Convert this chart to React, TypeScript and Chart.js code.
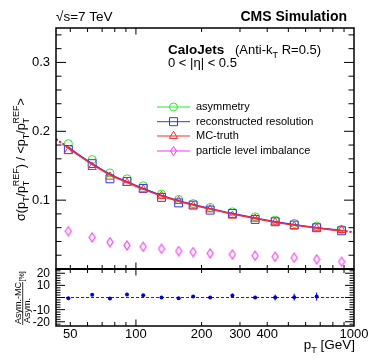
import { useEffect, useRef, useState } from 'react';
import { Chart, registerables } from 'chart.js';

Chart.register(...registerables);

// ---------------- data ----------------
const ptBins = [49, 63, 76, 91, 108, 131, 157, 183, 219, 277, 352, 435, 532, 674, 877];
const asymmetry = [0.182, 0.159, 0.1396, 0.131, 0.121, 0.1087, 0.101, 0.095, 0.0894, 0.083, 0.0758, 0.071, 0.0662, 0.0623, 0.0575];
const recoResolution = [0.1735, 0.153, 0.131, 0.127, 0.117, 0.104, 0.096, 0.0928, 0.0855, 0.0807, 0.072, 0.0686, 0.0638, 0.0599, 0.0555];
const mcTruth = [0.171, 0.148, 0.134, 0.125, 0.1155, 0.106, 0.0985, 0.0918, 0.0865, 0.0773, 0.0729, 0.0677, 0.0623, 0.059, 0.0565];
const particleImbalance = [0.055, 0.046, 0.039, 0.0343, 0.0323, 0.0294, 0.026, 0.0246, 0.0227, 0.0213, 0.0193, 0.0178, 0.0164, 0.014, 0.0106];

const fitPt = [43, 49, 63, 76, 91, 108, 131, 157, 183, 219, 277, 352, 435, 532, 674, 877, 1000];
const fitMcTruth = [0.188, 0.1755, 0.152, 0.137, 0.126, 0.116, 0.106, 0.0985, 0.093, 0.087, 0.08, 0.0735, 0.068, 0.0638, 0.0595, 0.0555, 0.053];
const fitReco = [0.189, 0.1765, 0.153, 0.1378, 0.1268, 0.1168, 0.1067, 0.0992, 0.0937, 0.0876, 0.0806, 0.074, 0.0685, 0.0643, 0.06, 0.056, 0.0535];

const ratioPt = [49, 63, 76, 91, 108, 131, 157, 183, 219, 277, 352, 435, 532, 674];
const ratioValues = [-0.6, 2.2, -0.8, 2.5, 1.9, 0, -0.6, 0.8, 0, 1.7, 0, 0, 0.3, 0.8];
const ratioErrors = [0.6, 0.6, 0.6, 0.6, 0.6, 0.7, 0.7, 0.8, 0.9, 1.5, 1.3, 2.4, 2.9, 3.3];

const xTickLabels = [50, 100, 200, 300, 400, 1000];
const xMajorTicks = [100, 1000];
const xMinorTicks = [50, 60, 70, 80, 90, 200, 300, 400, 500, 600, 700, 800, 900];
const mainYTickLabels = [0.1, 0.2, 0.3];
const ratioYTickLabels = ['20', '10', '-10', '-20'];
const ratioYTickValues = [20, 10, -10, -20];

// ---------------- styling ----------------
const FONT = '"Liberation Sans", Arial, Helvetica, sans-serif';
const f = (size: number, bold = false) => `${bold ? 'bold ' : ''}${size}px ${FONT}`;
const GREEN = '#22ee22';
const BLUE = '#3333ff';
const RED = '#ff2a2a';
const MAGENTA = '#ff33ff';
const RATIO_BLUE = '#0000ee';

type Part = { text: string; sub?: string; sup?: string };

function richWidth(ctx: CanvasRenderingContext2D, parts: Part[], size: number, small: number) {
  let w = 0;
  for (const p of parts) {
    ctx.font = f(size);
    w += ctx.measureText(p.text).width;
    ctx.font = f(small);
    const w1 = p.sub ? ctx.measureText(p.sub).width : 0;
    const w2 = p.sup ? ctx.measureText(p.sup).width : 0;
    w += Math.max(w1, w2);
  }
  return w;
}

function drawRich(ctx: CanvasRenderingContext2D, parts: Part[], x: number, y: number, size: number, small: number, subDy: number, supDy: number) {
  let cx = x;
  for (const p of parts) {
    ctx.font = f(size);
    ctx.fillText(p.text, cx, y);
    cx += ctx.measureText(p.text).width;
    ctx.font = f(small);
    const w1 = p.sub ? ctx.measureText(p.sub).width : 0;
    const w2 = p.sup ? ctx.measureText(p.sup).width : 0;
    if (p.sub) ctx.fillText(p.sub, cx, y + subDy);
    if (p.sup) ctx.fillText(p.sup, cx, y + supDy);
    cx += Math.max(w1, w2);
  }
}

function makeDiamond(color: string) {
  const c = document.createElement('canvas');
  c.width = 8;
  c.height = 11;
  const g = c.getContext('2d')!;
  g.strokeStyle = color;
  g.lineWidth = 1.1;
  g.beginPath();
  g.moveTo(4, 1);
  g.lineTo(7, 5.5);
  g.lineTo(4, 10);
  g.lineTo(1, 5.5);
  g.closePath();
  g.stroke();
  return c;
}

const framePlugin = {
  id: 'rootFrame',
  afterDatasetsDraw(chart: any) {
    const ctx: CanvasRenderingContext2D = chart.ctx;
    const x = chart.scales.x;
    const yr = chart.scales.yr;
    ctx.save();
    ctx.strokeStyle = RATIO_BLUE;
    ctx.lineWidth = 1;
    ctx.beginPath();
    ratioPt.forEach((pt, i) => {
      const px = x.getPixelForValue(pt);
      ctx.moveTo(px, yr.getPixelForValue(ratioValues[i] + ratioErrors[i]));
      ctx.lineTo(px, yr.getPixelForValue(ratioValues[i] - ratioErrors[i]));
    });
    ctx.stroke();
    ctx.restore();
  },
  afterDraw(chart: any) {
    const ctx: CanvasRenderingContext2D = chart.ctx;
    const x = chart.scales.x;
    const y = chart.scales.y;
    const yr = chart.scales.yr;
    const L = chart.chartArea.left;
    const R = chart.chartArea.right;
    ctx.save();
    ctx.strokeStyle = '#000';

    ctx.lineWidth = 0.8;
    ctx.setLineDash([3, 2]);
    ctx.beginPath();
    const z = yr.getPixelForValue(0);
    ctx.moveTo(L, z);
    ctx.lineTo(R, z);
    ctx.stroke();
    ctx.setLineDash([]);

    ctx.lineWidth = 1;
    ctx.beginPath();
    const xTicks = (yy: number, dir: number, maj: number, min: number) => {
      for (const v of [...xMinorTicks, ...xMajorTicks]) {
        const px = x.getPixelForValue(v);
        if (px < L + 1 || px > R - 1) continue;
        const len = xMajorTicks.includes(v) ? maj : min;
        ctx.moveTo(px, yy);
        ctx.lineTo(px, yy + dir * len);
      }
    };
    xTicks(y.top, 1, 6.5, 4);
    xTicks(y.bottom, -1, 6.5, 4);
    xTicks(yr.top, 1, 6.5, 4);
    xTicks(yr.bottom, -1, 6.5, 4);

    const yTicks = (scale: any, from: number, to: number, step: number, majorStep: number, maj: number, min: number) => {
      const n = Math.round((to - from) / step);
      for (let i = 0; i <= n; i++) {
        const v = from + i * step;
        const py = scale.getPixelForValue(v);
        if (py < scale.top + 1 || py > scale.bottom - 1) continue;
        const isMaj = Math.abs(v / majorStep - Math.round(v / majorStep)) < 1e-6;
        const len = isMaj ? maj : min;
        ctx.moveTo(L, py);
        ctx.lineTo(L + len, py);
        ctx.moveTo(R, py);
        ctx.lineTo(R - len, py);
      }
    };
    yTicks(y, 0, 0.34, 0.02, 0.1, 10, 5.5);
    yTicks(yr, -22, 22, 2, 10, 9, 4.5);
    ctx.stroke();

    ctx.lineWidth = 1.5;
    ctx.strokeRect(L, y.top, R - L, y.bottom - y.top);
    ctx.strokeRect(L, yr.top, R - L, yr.bottom - yr.top);
    ctx.lineWidth = 2;
    ctx.beginPath();
    ctx.moveTo(L, y.bottom);
    ctx.lineTo(R, y.bottom);
    ctx.stroke();

    ctx.fillStyle = '#000';
    ctx.textBaseline = 'alphabetic';
    ctx.textAlign = 'left';
    ctx.font = f(13.5);
    ctx.fillText('\u221As=7 TeV', 56, 21);
    ctx.textAlign = 'right';
    ctx.font = f(14, true);
    ctx.fillText('CMS Simulation', 347, 21);
    ctx.textAlign = 'left';
    ctx.font = f(13.5, true);
    ctx.fillText('CaloJets', 168, 54);
    drawRich(ctx, [{ text: '(Anti-k', sub: 'T' }, { text: ' R=0.5)' }], 235, 54, 13, 9, 4, -6);
    ctx.font = f(13);
    ctx.fillText('0 < |\u03B7| < 0.5', 168, 67);

    const legend = [
      { label: 'asymmetry', color: GREEN, shape: 'circle', y: 107 },
      { label: 'reconstructed resolution', color: BLUE, shape: 'rect', y: 121.7 },
      { label: 'MC-truth', color: RED, shape: 'triangle', y: 136 },
      { label: 'particle level imbalance', color: MAGENTA, shape: 'diamond', y: 151 },
    ];
    for (const e of legend) {
      ctx.strokeStyle = e.color;
      ctx.lineWidth = 1;
      ctx.beginPath();
      ctx.moveTo(157, e.y);
      ctx.lineTo(190, e.y);
      ctx.stroke();
      const mx = 173.5;
      ctx.beginPath();
      if (e.shape === 'circle') {
        ctx.arc(mx, e.y, 4, 0, Math.PI * 2);
        ctx.stroke();
      } else if (e.shape === 'rect') {
        ctx.rect(mx - 4, e.y - 4, 8, 8);
        ctx.stroke();
      } else if (e.shape === 'triangle') {
        const r = 4.8;
        ctx.moveTo(mx, e.y - r);
        ctx.lineTo(mx + r * 0.866, e.y + r / 2);
        ctx.lineTo(mx - r * 0.866, e.y + r / 2);
        ctx.closePath();
        ctx.stroke();
      } else {
        ctx.moveTo(mx, e.y - 4.5);
        ctx.lineTo(mx + 3, e.y);
        ctx.lineTo(mx, e.y + 4.5);
        ctx.lineTo(mx - 3, e.y);
        ctx.closePath();
        ctx.stroke();
      }
      ctx.fillStyle = '#000';
      ctx.font = f(11);
      ctx.textBaseline = 'middle';
      ctx.fillText(e.label, 196, e.y);
    }
    ctx.textBaseline = 'alphabetic';

    const yParts: Part[] = [
      { text: '\u03C3(p', sub: 'T' },
      { text: '/p', sub: 'T', sup: 'REF' },
      { text: ') / <p', sub: 'T' },
      { text: '/p', sub: 'T', sup: 'REF' },
      { text: '>' },
    ];
    const tw = richWidth(ctx, yParts, 12.5, 9);
    ctx.save();
    ctx.translate(25, 159.5);
    ctx.rotate(-Math.PI / 2);
    drawRich(ctx, yParts, -tw / 2, 0, 12.5, 9, 3.5, -6);
    ctx.restore();

    ctx.save();
    ctx.translate(21, 324);
    ctx.rotate(-Math.PI / 2);
    ctx.font = f(9);
    ctx.fillText('Asym.-MC', 0, 0);
    const nw = ctx.measureText('Asym.-MC').width;
    ctx.font = f(7);
    ctx.fillText('[%]', nw + 0.5, 2.5);
    ctx.restore();
    ctx.strokeStyle = '#000';
    ctx.lineWidth = 0.8;
    ctx.beginPath();
    ctx.moveTo(22.7, 325);
    ctx.lineTo(22.7, 282);
    ctx.stroke();
    ctx.save();
    ctx.translate(30, 323);
    ctx.rotate(-Math.PI / 2);
    ctx.font = f(9);
    ctx.fillText('Asym.', 0, 0);
    ctx.restore();

    const xParts: Part[] = [{ text: 'p', sub: 'T' }, { text: ' [GeV]' }];
    const xw = richWidth(ctx, xParts, 13.5, 9);
    drawRich(ctx, xParts, 355 - xw, 349, 13.5, 9, 3.5, -6);

    ctx.restore();
  },
};

type LabelPos = { text: string; top: number; right: number };

export default function App() {
  const ref = useRef<HTMLCanvasElement | null>(null);
  const [ratioLabels, setRatioLabels] = useState<LabelPos[]>([]);

  useEffect(() => {
    document.body.style.margin = '0';
    const canvas = ref.current;
    if (!canvas) return;
    const toPts = (xs: number[], ys: number[]) => xs.map((v, i) => ({ x: v, y: ys[i] }));
    const lastSeg = fitPt.length - 2;
    const dashSeg = (c: any) => (c.p0DataIndex === 0 || c.p0DataIndex === lastSeg ? [2, 2] : undefined);
    const diamond = makeDiamond(MAGENTA);

    const chart = new Chart(canvas, {
      type: 'scatter',
      data: {
        datasets: [
          {
            label: 'MC-truth fit',
            data: toPts(fitPt, fitMcTruth),
            yAxisID: 'y',
            showLine: true,
            borderColor: RED,
            borderWidth: 1.6,
            pointRadius: 0,
            cubicInterpolationMode: 'monotone',
            segment: { borderDash: dashSeg },
          } as any,
          {
            label: 'reco fit',
            data: toPts(fitPt, fitReco),
            yAxisID: 'y',
            showLine: true,
            borderColor: BLUE,
            borderWidth: 1.6,
            pointRadius: 0,
            cubicInterpolationMode: 'monotone',
            segment: { borderDash: dashSeg },
          } as any,
          {
            label: 'MC-truth',
            data: toPts(ptBins, mcTruth),
            yAxisID: 'y',
            pointStyle: 'triangle',
            pointRadius: 4.8,
            borderColor: RED,
            backgroundColor: 'rgba(0,0,0,0)',
            borderWidth: 1,
          },
          {
            label: 'reconstructed resolution',
            data: toPts(ptBins, recoResolution),
            yAxisID: 'y',
            pointStyle: 'rect',
            pointRadius: 5.6,
            borderColor: BLUE,
            backgroundColor: 'rgba(0,0,0,0)',
            borderWidth: 1,
          },
          {
            label: 'asymmetry',
            data: toPts(ptBins, asymmetry),
            yAxisID: 'y',
            pointStyle: 'circle',
            pointRadius: 4,
            borderColor: GREEN,
            backgroundColor: 'rgba(0,0,0,0)',
            borderWidth: 1,
          },
          {
            label: 'particle level imbalance',
            data: toPts(ptBins, particleImbalance),
            yAxisID: 'y',
            pointStyle: diamond as any,
            pointRadius: 4,
          },
          {
            label: 'ratio',
            data: toPts(ratioPt, ratioValues),
            yAxisID: 'yr',
            pointStyle: 'circle',
            pointRadius: 2,
            borderWidth: 0,
            backgroundColor: RATIO_BLUE,
            borderColor: RATIO_BLUE,
          },
        ],
      },
      options: {
        responsive: false,
        animation: false,
        events: [],
        layout: { padding: { top: 28, right: 20, left: 0, bottom: 0 } },
        plugins: { legend: { display: false }, tooltip: { enabled: false }, title: { display: false } },
        scales: {
          x: {
            type: 'logarithmic',
            min: 43,
            max: 1000,
            position: 'bottom',
            grid: { display: false, drawTicks: false },
            border: { display: false },
            afterBuildTicks: (s: any) => {
              s.ticks = xTickLabels.map((v) => ({ value: v }));
            },
            afterFit: (s: any) => {
              s.height = 33;
            },
            ticks: {
              autoSkip: false,
              maxRotation: 0,
              padding: 1,
              color: '#000',
              font: { family: FONT, size: 13 },
              callback: (v: any) => String(v),
            },
          },
          yr: {
            type: 'linear',
            position: 'left',
            stack: 'panels',
            stackWeight: 57,
            min: -23.5,
            max: 23.5,
            grid: { display: false, drawTicks: false },
            border: { display: false },
            afterFit: (s: any) => {
              s.width = 56;
            },
            ticks: { display: false },
          },
          y: {
            type: 'linear',
            position: 'left',
            stack: 'panels',
            stackWeight: 241,
            min: 0,
            max: 0.35,
            grid: { display: false, drawTicks: false },
            border: { display: false },
            afterBuildTicks: (s: any) => {
              s.ticks = mainYTickLabels.map((v) => ({ value: v }));
            },
            afterFit: (s: any) => {
              s.width = 56;
            },
            ticks: {
              autoSkip: false,
              padding: 6,
              color: '#000',
              font: { family: FONT, size: 13 },
              callback: (v: any) => String(v),
            },
          },
        } as any,
      },
      plugins: [framePlugin],
    });

    // ratio-axis tick labels as DOM text placed through the chart's own scale
    const yr: any = chart.scales.yr;
    const left = chart.chartArea.left;
    setRatioLabels(
      ratioYTickValues.map((v, i) => ({
        text: ratioYTickLabels[i],
        top: yr.getPixelForValue(v),
        right: 374 - (left - 6),
      }))
    );

    return () => chart.destroy();
  }, []);

  return (
    <div style={{ position: 'relative', width: 374, height: 359, background: '#fff' }}>
      <canvas ref={ref} width={374} height={359} style={{ display: 'block' }} />
      {ratioLabels.map((l) => (
        <span
          key={l.text}
          style={{
            position: 'absolute',
            right: l.right,
            top: l.top - 7,
            height: 14,
            lineHeight: '14px',
            fontFamily: FONT,
            fontSize: 12,
            color: '#000',
            whiteSpace: 'nowrap',
          }}
        >
          {l.text}
        </span>
      ))}
    </div>
  );
}
